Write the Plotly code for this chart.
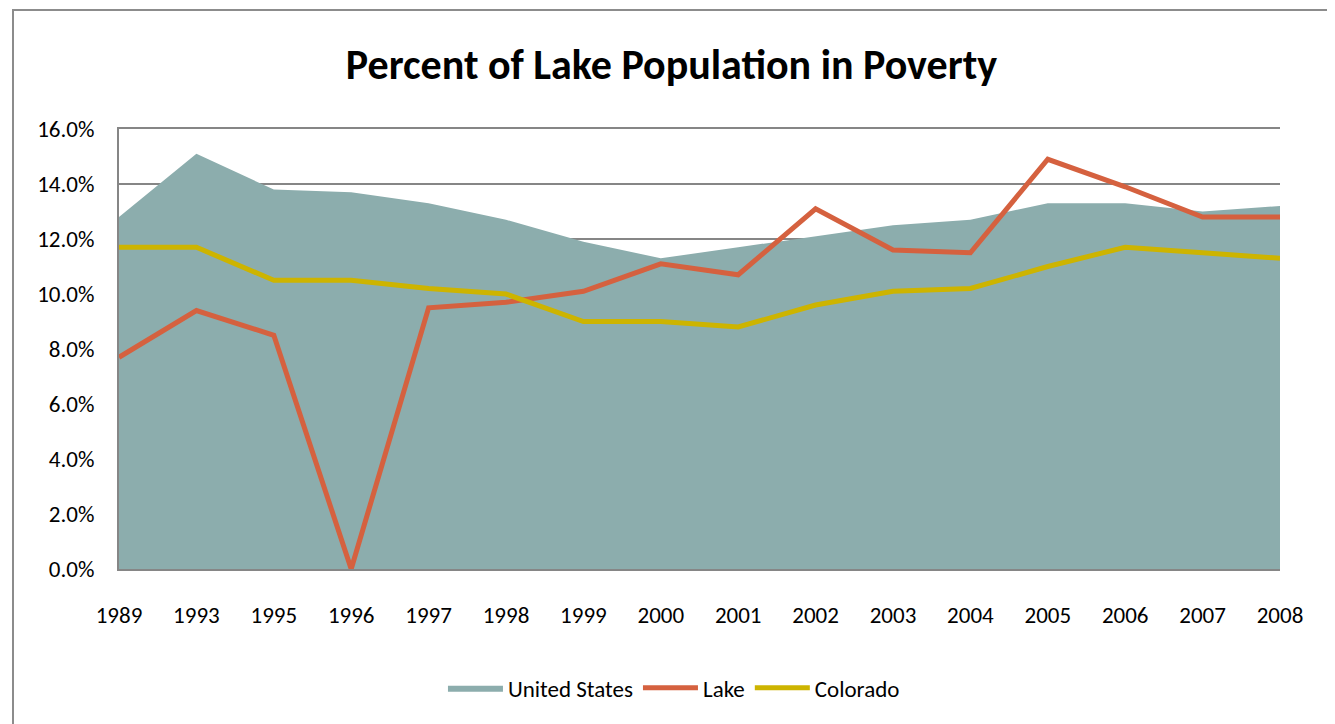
import plotly.graph_objects as go

years = ["1989", "1993", "1995", "1996", "1997", "1998", "1999", "2000",
         "2001", "2002", "2003", "2004", "2005", "2006", "2007", "2008"]
us = [12.8, 15.1, 13.8, 13.7, 13.3, 12.7, 11.9, 11.3, 11.7, 12.1, 12.5, 12.7, 13.3, 13.3, 13.0, 13.2]
lake = [7.7, 9.4, 8.5, 0.0, 9.5, 9.7, 10.1, 11.1, 10.7, 13.1, 11.6, 11.5, 14.9, 13.9, 12.8, 12.8]
colorado = [11.7, 11.7, 10.5, 10.5, 10.2, 10.0, 9.0, 9.0, 8.8, 9.6, 10.1, 10.2, 11.0, 11.7, 11.5, 11.3]

font = "Carlito, Calibri, Liberation Sans Narrow, Open Sans, sans-serif"

fig = go.Figure()
fig.add_trace(go.Scatter(x=years, y=[v / 100 for v in us], name="United States",
                         mode="lines", line=dict(width=0, color="#8CADAD"),
                         fill="tozeroy", fillcolor="#8CADAD"))
fig.add_trace(go.Scatter(x=years, y=[v / 100 for v in lake], name="Lake",
                         mode="lines", line=dict(width=5, color="#D5613F")))
fig.add_trace(go.Scatter(x=years, y=[v / 100 for v in colorado], name="Colorado",
                         mode="lines", line=dict(width=5, color="#CDB400")))

# page body has an 8px margin, so the figure is a little smaller than the window
fig.update_layout(
    width=1327, height=716,
    margin=dict(l=111, r=55, t=121, b=155),
    paper_bgcolor="white", plot_bgcolor="white",
    font=dict(family=font, size=23, color="black"),
    title=dict(text="<b>Percent of Lake Population in Poverty</b>",
               x=0.5, xanchor="center", y=0.922, yanchor="middle",
               font=dict(size=42, family=font)),
    legend=dict(orientation="h", x=0.478, xanchor="center", y=-0.27, yanchor="middle",
                font=dict(size=23), itemwidth=55),
    showlegend=True,
)
# mirror puts the gray line on top, where the 16% gridline sits
fig.update_xaxes(type="category", range=[0, 15], showgrid=False,
                 showline=True, linecolor="#868686", linewidth=2, mirror=True,
                 ticks="", ticklabelstandoff=24)
fig.update_yaxes(range=[0, 0.16001], dtick=0.02, tickformat=".1%",
                 showgrid=True, gridcolor="#868686", gridwidth=2,
                 showline=True, linecolor="#868686", linewidth=2,
                 zeroline=False, ticks="", ticklabelstandoff=18, layer="below traces")

fig.add_shape(type="rect", xref="paper", yref="paper",
              x0=-0.0913, x1=1.0422, y0=-0.4, y1=1.2705,
              line=dict(color="#8C8C8C", width=2), fillcolor="rgba(0,0,0,0)", layer="below")

fig.write_html("out.html")
